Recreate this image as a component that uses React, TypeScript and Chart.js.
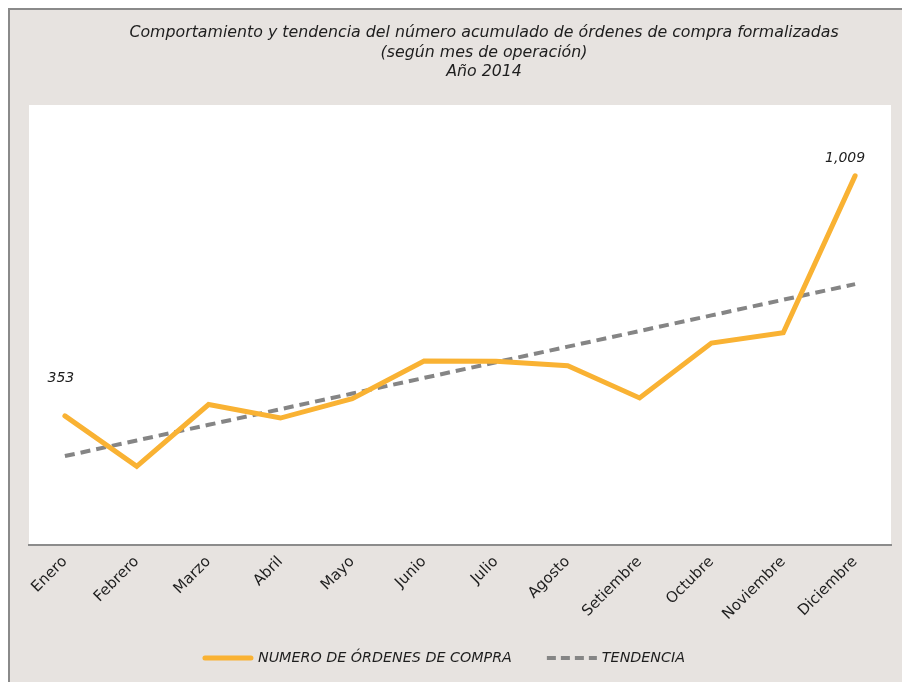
import React, { useEffect, useRef } from "react";
import { Chart, registerables } from "chart.js";

Chart.register(...registerables);

const titleLines = [
  "Comportamiento y tendencia del número acumulado de órdenes de compra formalizadas",
  "(según mes de operación)",
  "Año 2014",
];
const months = [
  "Enero", "Febrero", "Marzo", "Abril", "Mayo", "Junio",
  "Julio", "Agosto", "Setiembre", "Octubre", "Noviembre", "Diciembre",
];
const ordenes = [353, 215, 384, 347, 400, 503, 502, 490, 402, 552, 580, 1009];
const seriesName = "NUMERO DE ÓRDENES DE COMPRA";
const trendName = "TENDENCIA";
const labelledIndexes = [0, 11];
const yMin = 0;
const yMax = 1200;

// linear least-squares trend of the series (as in the original chart's trendline)
function linearTrend(vals: number[]): number[] {
  const n = vals.length;
  const mx = (n - 1) / 2;
  const my = vals.reduce((a, b) => a + b, 0) / n;
  let num = 0, den = 0;
  vals.forEach((v, i) => { num += (i - mx) * (v - my); den += (i - mx) * (i - mx); });
  const slope = num / den;
  return vals.map((_, i) => my + slope * (i - mx));
}

const FONT = "'DejaVu Sans', sans-serif";
const ORANGE = "#F9B233";
const GREY = "#858585";

export default function App() {
  const ref = useRef<HTMLCanvasElement | null>(null);

  useEffect(() => {
    document.body.style.overflow = "hidden";
    document.documentElement.style.overflow = "hidden";
    const canvas = ref.current;
    if (!canvas) return;

    const decor = {
      id: "decor",
      beforeDraw(chart: any) {
        const { ctx, chartArea } = chart;
        ctx.save();
        ctx.fillStyle = "#ffffff";
        ctx.fillRect(chartArea.left, chartArea.top - 1, chartArea.right - chartArea.left, chartArea.bottom - chartArea.top + 1);
        ctx.restore();
      },
      afterDraw(chart: any) {
        const { ctx } = chart;
        ctx.save();
        ctx.fillStyle = "#1e1e1e";
        ctx.textAlign = "center";
        ctx.textBaseline = "middle";
        ctx.font = `italic 15.8px ${FONT}`;
        const tx = 474;
        titleLines.forEach((t, i) => ctx.fillText(t, tx, 23 + i * 19.5));

        // data labels
        const meta = chart.getDatasetMeta(0);
        ctx.font = `italic 14px ${FONT}`;
        labelledIndexes.forEach((idx) => {
          const p = meta.data[idx];
          const txt = ordenes[idx].toLocaleString("en-US");
          const dy = idx === 0 ? 38 : 18;
          const dx = idx === 0 ? -4 : -10;
          ctx.fillText(txt, p.x + dx, p.y - dy);
        });

        // legend
        ctx.font = `italic 14.3px ${FONT}`;
        ctx.textAlign = "left";
        const w1 = ctx.measureText(seriesName).width;
        const w2 = ctx.measureText(trendName).width;
        const sample = 50;
        const gapText = 5;
        const gapItems = 35;
        const total = sample + gapText + w1 + gapItems + sample + gapText + w2;
        let x = 434 - total / 2;
        const y = 648;
        ctx.lineWidth = 5;
        ctx.strokeStyle = ORANGE;
        ctx.lineCap = "round";
        ctx.beginPath(); ctx.moveTo(x + 2, y); ctx.lineTo(x + sample - 2, y); ctx.stroke();
        ctx.fillStyle = "#1e1e1e";
        ctx.fillText(seriesName, x + sample + gapText, y);
        x += sample + gapText + w1 + gapItems;
        ctx.strokeStyle = GREY;
        ctx.lineWidth = 4;
        ctx.lineCap = "butt";
        ctx.setLineDash([9, 5]);
        ctx.beginPath(); ctx.moveTo(x, y); ctx.lineTo(x + sample, y); ctx.stroke();
        ctx.setLineDash([]);
        ctx.fillText(trendName, x + sample + gapText, y);
        ctx.restore();
      },
    };

    const chart = new Chart(canvas, {
      type: "line",
      data: {
        labels: months,
        datasets: [
          {
            label: seriesName,
            data: ordenes,
            borderColor: ORANGE,
            borderWidth: 5,
            pointRadius: 0,
            tension: 0,
            borderJoinStyle: "miter",
            borderCapStyle: "round",
          },
          {
            label: trendName,
            data: linearTrend(ordenes),
            borderColor: GREY,
            borderWidth: 4,
            borderDash: [10, 6],
            pointRadius: 0,
            tension: 0,
          },
        ],
      },
      options: {
        responsive: false,
        animation: false,
        events: [],
        layout: { padding: { left: 19, right: 11, top: 96, bottom: 52 } },
        plugins: {
          legend: { display: false },
          title: { display: false },
          tooltip: { enabled: false },
        },
        scales: {
          x: {
            offset: true,
            grid: { display: true, color: "rgba(0,0,0,0)", drawTicks: false },
            border: { display: true, color: "#8c8c8c", width: 2 },
            ticks: {
              color: "#1e1e1e",
              font: { family: FONT, size: 15 },
              minRotation: 45,
              maxRotation: 45,
              padding: 8,
              autoSkip: false,
            },
            afterFit: (scale: any) => { scale.height = 85; },
          },
          y: {
            display: false,
            min: yMin,
            max: yMax,
          },
        },
      },
      plugins: [decor],
    });
    return () => chart.destroy();
  }, []);

  return (
    <div
      style={{
        position: "absolute",
        left: 8,
        top: 8,
        width: 894,
        height: 674,
        boxSizing: "border-box",
        borderLeft: "2px solid #8a8a8a",
        borderTop: "2px solid #8a8a8a",
        background: "#E7E3E0",
        overflow: "hidden",
      }}
    >
      <canvas ref={ref} width={892} height={672} style={{ display: "block" }} />
    </div>
  );
}
